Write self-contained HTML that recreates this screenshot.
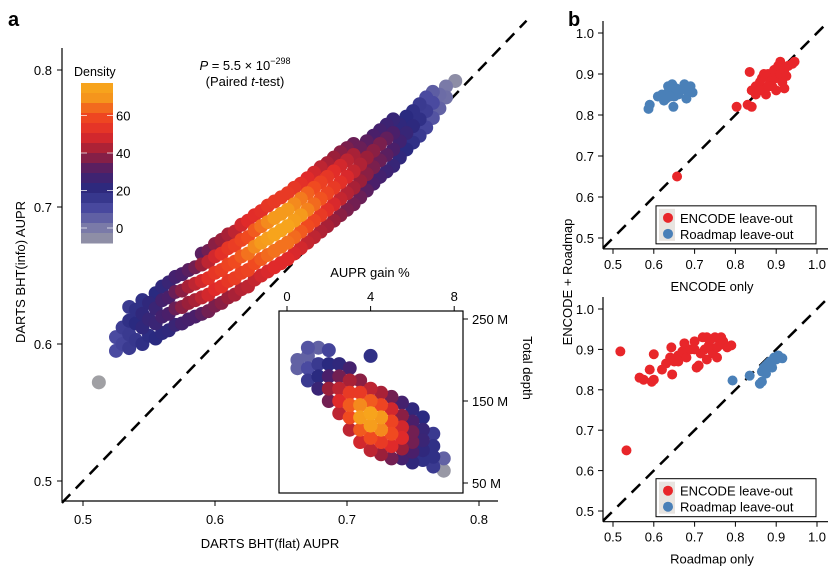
<!DOCTYPE html>
<html><head><meta charset="utf-8"><style>
body{margin:0;background:#fff;width:836px;height:575px;overflow:hidden}
svg{display:block;font-family:"Liberation Sans",sans-serif}
</style></head><body>
<svg id="fig" width="836" height="575" viewBox="0 0 836 575">
<text x="8" y="26" font-size="20" font-weight="bold">a</text>
<text x="568" y="26" font-size="20" font-weight="bold">b</text>
<g id="gA"></g>
<g id="gB1"></g>
<g id="gB2"></g>
</svg>
<script>
// ---- Panel a main scatter data (columns of points) ----
const colX = [0.512,0.525,0.530,0.535,0.540,0.545,0.550,0.555,0.560,0.565,0.570,0.575,0.580,0.585,0.590,0.595,0.600,0.605,0.610,0.615,0.620,0.625,0.630,0.635,0.640,0.645,0.650,0.655,0.660,0.665,0.670,0.675,0.680,0.685,0.690,0.695,0.700,0.705,0.710,0.715,0.720,0.725,0.730,0.735,0.740,0.745,0.750,0.755,0.760,0.765,0.770,0.775,0.782];
const colY = [[0.572],[0.595,0.605],[0.600,0.612],[0.597,0.607,0.617,0.627],[0.603,0.615,0.625],[0.600,0.612,0.622,0.632],[0.606,0.618,0.630],[0.604,0.615,0.626,0.637],[0.608,0.620,0.632,0.642],[0.610,0.622,0.634,0.645],[0.614,0.626,0.638,0.649],[0.615,0.627,0.639,0.651],[0.618,0.630,0.642,0.654],[0.620,0.632,0.644,0.656],[0.622,0.634,0.646,0.658,0.666],[0.624,0.636,0.648,0.660,0.668],[0.628,0.640,0.652,0.664,0.673],[0.630,0.642,0.654,0.666,0.676],[0.634,0.646,0.658,0.670,0.680],[0.636,0.648,0.660,0.672,0.682],[0.640,0.652,0.664,0.676,0.687],[0.642,0.654,0.666,0.678,0.690],[0.647,0.659,0.671,0.683,0.694],[0.650,0.662,0.674,0.686,0.697],[0.653,0.665,0.677,0.689,0.701],[0.656,0.668,0.680,0.692,0.704],[0.659,0.671,0.683,0.695,0.707],[0.662,0.674,0.686,0.698,0.710],[0.666,0.678,0.690,0.702,0.714],[0.670,0.682,0.694,0.706,0.717],[0.674,0.686,0.698,0.710,0.721],[0.678,0.690,0.702,0.714,0.725],[0.682,0.694,0.706,0.718,0.729],[0.686,0.698,0.710,0.722,0.732],[0.690,0.702,0.714,0.726,0.736],[0.694,0.706,0.718,0.730,0.740],[0.698,0.710,0.722,0.734,0.743],[0.702,0.714,0.726,0.738,0.746],[0.707,0.719,0.731,0.743],[0.712,0.724,0.736,0.748],[0.717,0.729,0.741,0.752],[0.722,0.734,0.746,0.756],[0.726,0.738,0.750,0.760],[0.730,0.742,0.754,0.764],[0.736,0.748,0.760],[0.742,0.754,0.766],[0.747,0.759,0.770],[0.752,0.764,0.775],[0.758,0.770,0.780],[0.765,0.776,0.784],[0.772,0.782],[0.780,0.788],[0.792]];
const colD = [[-10],[10,10],[12,14],[15,15,18,15],[16,20,18],[18,22,22,18],[19,24,22],[20,25,25,20],[21,28,28,22],[22,30,30,25],[25,34,34,28],[28,38,38,30],[29,40,42,32],[30,42,45,35],[32,45,48,40,32],[35,48,52,45,35],[36,50,54,48,38],[38,52,56,52,40],[40,54,58,54,42],[42,56,60,56,45],[44,57,62,58,48],[45,58,65,60,50],[46,60,68,62,51],[48,62,70,65,52],[49,64,72,68,54],[50,65,75,70,55],[50,65,75,70,55],[50,65,75,70,55],[49,64,72,68,54],[48,62,70,66,52],[46,60,67,63,50],[45,58,64,60,48],[43,55,61,57,45],[42,52,58,54,42],[40,49,55,51,40],[38,46,52,48,38],[36,44,49,45,36],[35,42,46,42,34],[34,40,43,34],[32,38,40,32],[30,36,38,30],[28,34,36,28],[26,32,33,26],[24,30,30,24],[22,27,22],[20,24,20],[18,21,18],[15,18,15],[12,14,10],[8,10,6],[5,3],[2,0],[-5]];
const mainXTicks = [0.5,0.6,0.7,0.8];
const mainYTicks = [0.5,0.6,0.7,0.8];
// ---- Inset data ----
const inG = [0.5,1.0,1.5,2.0,2.5,3.0,3.5,4.0,4.5,5.0,5.5,6.0,6.5,7.0,7.5];
const inDepth = [[190,200],[175,190,205,215],[165,180,195,215],[150,165,180,195,212],[135,150,165,180,195],[115,130,145,160,175,190],[100,115,130,145,160,175],[90,105,120,135,150,165,205],[85,100,115,130,145,160],[80,95,110,125,140,155],[80,92,105,118,132,148],[75,88,100,112,125,140],[78,90,102,115,130],[70,82,95,110],[65,80]];
const inD = [[5,5],[15,10,5,8],[25,20,15,5],[35,40,30,20,12],[45,50,45,35,22],[45,60,62,55,42,28],[48,62,72,68,55,38],[45,60,72,75,62,45,18],[40,55,68,70,58,42],[35,50,60,58,48,35],[28,40,50,48,38,28],[22,30,35,35,30,22],[18,22,25,24,20],[15,18,18,15],[-8,5]];
const inXTicks = [0,4,8];
const inYTicks = [50,150,250];
const cbTicks = [0,20,40,60];
// ---- Panel b data ----
const b1BlueX=[0.587,0.59,0.61,0.62,0.625,0.63,0.635,0.64,0.645,0.645,0.648,0.65,0.655,0.66,0.64,0.675,0.68,0.68,0.69,0.695,0.665,0.635];
const b1BlueY=[0.815,0.825,0.845,0.85,0.835,0.84,0.855,0.86,0.87,0.875,0.82,0.845,0.865,0.85,0.845,0.875,0.84,0.86,0.87,0.855,0.86,0.87];
const b1RedX=[0.657,0.803,0.83,0.84,0.835,0.84,0.85,0.86,0.865,0.87,0.875,0.88,0.885,0.89,0.895,0.9,0.905,0.91,0.915,0.92,0.92,0.925,0.93,0.94,0.945,0.86,0.9,0.88,0.91,0.85,0.87];
const b1RedY=[0.65,0.82,0.825,0.82,0.905,0.86,0.87,0.88,0.89,0.86,0.85,0.9,0.88,0.87,0.91,0.89,0.92,0.9,0.88,0.865,0.91,0.895,0.92,0.925,0.93,0.86,0.86,0.87,0.93,0.85,0.9];
const b2RedX=[0.518,0.533,0.565,0.575,0.59,0.595,0.6,0.6,0.62,0.63,0.64,0.643,0.645,0.65,0.66,0.67,0.675,0.68,0.69,0.7,0.705,0.71,0.715,0.72,0.725,0.73,0.735,0.74,0.745,0.75,0.755,0.76,0.765,0.77,0.78,0.79,0.7,0.755,0.73,0.66];
const b2RedY=[0.895,0.65,0.83,0.825,0.85,0.82,0.825,0.888,0.85,0.865,0.88,0.905,0.838,0.87,0.885,0.895,0.915,0.88,0.9,0.92,0.855,0.86,0.89,0.93,0.9,0.875,0.91,0.925,0.89,0.93,0.88,0.91,0.93,0.92,0.905,0.91,0.9,0.905,0.93,0.87];
const b2BlueX=[0.793,0.835,0.86,0.865,0.865,0.87,0.875,0.88,0.885,0.89,0.895,0.9,0.905,0.915,0.875];
const b2BlueY=[0.823,0.835,0.815,0.82,0.845,0.855,0.84,0.865,0.87,0.855,0.88,0.875,0.885,0.878,0.86];
const bTicks=[0.5,0.6,0.7,0.8,0.9,1.0];

const NS="http://www.w3.org/2000/svg";
function mk(parent,tag,attrs,txt){const e=document.createElementNS(NS,tag);for(const k in attrs)e.setAttribute(k,attrs[k]);if(txt!==undefined)e.textContent=txt;parent.appendChild(e);return e;}
const stops=[[-10,[160,160,164]],[0,[122,122,168]],[10,[74,74,160]],[20,[42,42,128]],[30,[74,31,106]],[40,[154,31,58]],[50,[224,42,42]],[60,[240,74,32]],[70,[245,154,28]],[78,[248,170,28]]];
function dcol(d){if(d<=stops[0][0])return `rgb(${stops[0][1]})`;for(let i=1;i<stops.length;i++){if(d<=stops[i][0]){const a=stops[i-1],b=stops[i],t=(d-a[0])/(b[0]-a[0]);return `rgb(${a[1].map((v,j)=>Math.round(v+(b[1][j]-v)*t)).join(',')})`;}}return `rgb(${stops[stops.length-1][1]})`;}

// ---- Panel A ----
const A=document.getElementById('gA');
const ax=v=>83+(v-0.5)*1320, ay=v=>481-(v-0.5)*1370;
const dl=mk(A,'line',{x1:ax(0.484),y1:ay(0.484),x2:ax(0.836),y2:ay(0.836),stroke:'#000','stroke-width':2.5,'stroke-dasharray':'12,8'});

let pts=[];colX.forEach((x,i)=>colY[i].forEach((y,j)=>pts.push([x,y,colD[i][j]])));
pts.sort((a,b)=>a[2]-b[2]);
pts.forEach(p=>{const c=mk(A,'circle',{cx:ax(p[0]),cy:ay(p[1]),r:7,fill:dcol(p[2])});

});
mk(A,'line',{x1:62,y1:48,x2:62,y2:501,stroke:'#000','stroke-width':1.2});
mk(A,'line',{x1:62,y1:501,x2:498,y2:501,stroke:'#000','stroke-width':1.2});
mainYTicks.forEach(v=>{mk(A,'line',{x1:57,y1:ay(v),x2:62,y2:ay(v),stroke:'#000'});
const t=mk(A,'text',{x:52,y:ay(v)+5,'font-size':13,'text-anchor':'end'},v.toFixed(1));});
mainXTicks.forEach(v=>{mk(A,'line',{x1:ax(v),y1:501,x2:ax(v),y2:506,stroke:'#000'});
const t=mk(A,'text',{x:ax(v),y:524,'font-size':13,'text-anchor':'middle'},v.toFixed(1));});
let t=mk(A,'text',{x:270,y:548,'font-size':13,'text-anchor':'middle'},'DARTS BHT(flat) AUPR');
t=mk(A,'text',{x:0,y:0,'font-size':13,'text-anchor':'middle',transform:'translate(25,272) rotate(-90)'},'DARTS BHT(info) AUPR');
t=mk(A,'text',{x:245,y:70,'font-size':13,'text-anchor':'middle'});t.innerHTML='<tspan font-style="italic">P</tspan> = 5.5 × 10<tspan dy="-6" font-size="9">−298</tspan>';
t=mk(A,'text',{x:245,y:86,'font-size':13,'text-anchor':'middle'});t.innerHTML='(Paired <tspan font-style="italic">t</tspan>-test)';
const cb=mk(A,'g',{});
const cy=d=>228-d*37.5/20;
for(let y=83;y<243;y+=10){const d=(228-(y+5))*20/37.5;mk(cb,'rect',{x:81,y:y,width:32,height:10.5,fill:dcol(d)});}
cbTicks.forEach(d=>{mk(cb,'line',{x1:81,y1:cy(d),x2:113,y2:cy(d),stroke:'#fff','stroke-opacity':0.7,'stroke-width':1,'stroke-dasharray':'6,20'});
const l=mk(cb,'text',{x:116,y:cy(d)+5,'font-size':13},String(d));});
t=mk(A,'text',{x:74,y:76,'font-size':12.5},'Density');
const I=mk(A,'g',{});
mk(I,'rect',{x:279,y:311,width:184,height:182,fill:'#fff',stroke:'#000','stroke-width':1.2});
const ix=g=>287+g*20.9, iy=m=>483-(m-50)*0.82;
let ip=[];inG.forEach((g,i)=>inDepth[i].forEach((m,j)=>ip.push([g,m,inD[i][j]])));
ip.sort((a,b)=>a[2]-b[2]);
ip.forEach(p=>{const c=mk(I,'circle',{cx:ix(p[0]),cy:iy(p[1]),r:7,fill:dcol(p[2])});

});
inXTicks.forEach(g=>{mk(I,'line',{x1:ix(g),y1:306,x2:ix(g),y2:311,stroke:'#000'});const l=mk(I,'text',{x:ix(g),y:301,'font-size':13,'text-anchor':'middle'},String(g));});
inYTicks.forEach(m=>{mk(I,'line',{x1:463,y1:iy(m),x2:468,y2:iy(m),stroke:'#000'});const l=mk(I,'text',{x:472,y:iy(m)+5,'font-size':13},m+' M');});
t=mk(I,'text',{x:370,y:277,'font-size':13,'text-anchor':'middle'},'AUPR gain %');
t=mk(I,'text',{x:0,y:0,'font-size':13,'text-anchor':'middle',transform:'translate(523,368) rotate(90)'},'Total depth');

function panelB(g,y0,y1,xlab,rx,ry,bx,by){
  const sx=v=>613+(v-0.5)*408, sy=v=>y0-(v-0.5)*(y0-y1)/0.5;
  const d=mk(g,'line',{x1:sx(0.476),y1:sy(0.476),x2:sx(1.026),y2:sy(1.026),stroke:'#000','stroke-width':2.5,'stroke-dasharray':'12,8'});
  
  const xa=sy(0.476)+1;
  rx.forEach((x,i)=>{const c=mk(g,'circle',{cx:sx(x),cy:sy(ry[i]),r:5,fill:'#e8262a'});
    
    });
  bx.forEach((x,i)=>{const c=mk(g,'circle',{cx:sx(x),cy:sy(by[i]),r:5,fill:'#4a80b8'});
    
    });
  mk(g,'line',{x1:603,y1:y1-12,x2:603,y2:xa,stroke:'#000','stroke-width':1.2});
  mk(g,'line',{x1:603,y1:xa,x2:828,y2:xa,stroke:'#000','stroke-width':1.2});
  bTicks.forEach(v=>{
    mk(g,'line',{x1:598,y1:sy(v),x2:603,y2:sy(v),stroke:'#000'});
    let l=mk(g,'text',{x:594,y:sy(v)+5,'font-size':13,'text-anchor':'end'},v.toFixed(1));
    mk(g,'line',{x1:sx(v),y1:xa,x2:sx(v),y2:xa+5,stroke:'#000'});
    l=mk(g,'text',{x:sx(v),y:xa+20,'font-size':13,'text-anchor':'middle'},v.toFixed(1));
  });
  let l=mk(g,'text',{x:712,y:xa+42,'font-size':13,'text-anchor':'middle'},xlab);
  const lg=mk(g,'g',{});
  const ly=xa-43;
  mk(lg,'rect',{x:656,y:ly,width:160,height:38,fill:'#fff',stroke:'#000','stroke-width':1});
  mk(lg,'rect',{x:659,y:ly+3,width:16,height:32,fill:'#e8e4e0'});
  mk(lg,'circle',{cx:668,cy:ly+12,r:5,fill:'#e8262a'});
  mk(lg,'circle',{cx:668,cy:ly+28,r:5,fill:'#4a80b8'});
  l=mk(lg,'text',{x:680,y:ly+17,'font-size':13},'ENCODE leave-out');
  l=mk(lg,'text',{x:680,y:ly+33,'font-size':13},'Roadmap leave-out');
}
panelB(document.getElementById('gB1'),238,33,'ENCODE only',b1RedX,b1RedY,b1BlueX,b1BlueY);
panelB(document.getElementById('gB2'),511,309,'Roadmap only',b2RedX,b2RedY,b2BlueX,b2BlueY);
t=mk(document.getElementById('fig'),'text',{x:0,y:0,'font-size':13,'text-anchor':'middle',transform:'translate(572,282) rotate(-90)'},'ENCODE + Roadmap');

</script>
</body></html>
